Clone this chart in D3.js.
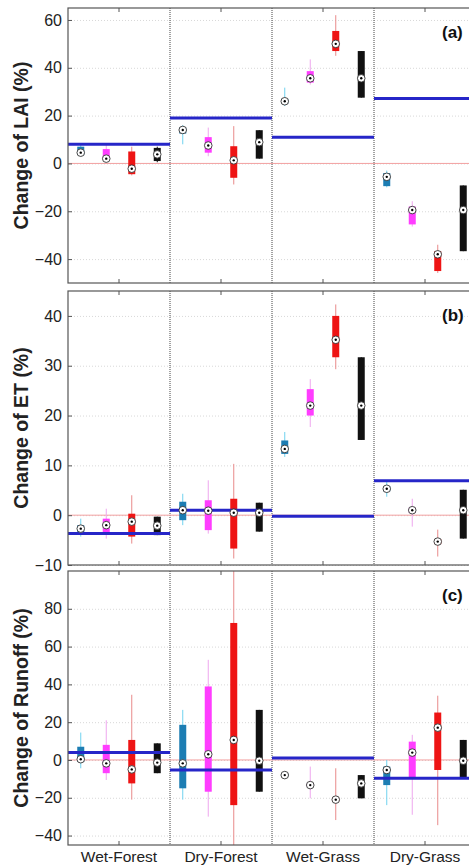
<!DOCTYPE html>
<html>
<head>
<meta charset="utf-8">
<script src="https://cdn.jsdelivr.net/npm/d3@7"></script>
<style>
  body { margin: 0; overflow: hidden; background: #fff; }
  svg { font-family: "Liberation Sans", Arial, sans-serif; }
</style>
</head>
<body>
<svg id="chart" width="490" height="868"></svg>
<script>
const categories = ["Wet-Forest", "Dry-Forest", "Wet-Grass", "Dry-Grass"];
const seriesKeys = ["s1", "s2", "s3", "s4"];

// each box: [whiskerLow, q1, median, q3, whiskerHigh], ordered by category then series
const laiBoxes = [
  [3, 3.5, 4.5, 7, 8], [1, 2, 2, 6, 8], [-5, -4.5, -2.2, 5, 7], [0.5, 1, 3.8, 6.5, 7],
  [8, 12.5, 14, 15, 16], [3, 4.5, 7.5, 11, 15], [-8.8, -6, 1.3, 7.2, 15.6], [2, 2, 8.9, 13.9, 13.9],
  [24, 25, 26, 27, 31.7], [33, 33.8, 35.6, 38.6, 43.5], [45, 47, 50, 55.4, 62], [27.5, 27.5, 35.6, 47, 47],
  [-10, -9.5, -5.6, -4, -3], [-26.4, -25.5, -19.5, -18, -15.8], [-45.8, -45, -38, -36.7, -34], [-36.7, -36.7, -19.5, -9.2, -9.2]
];
const laiMeans = [8, 19, 11, 27.2];
const laiTicks = [-40, -20, 0, 20, 40, 60];

const etBoxes = [
  [-4.3, -3.5, -2.7, -2, -0.7], [-4.7, -3.7, -2, -0.7, 1.3], [-5.7, -4.3, -1.3, 0.3, 4], [-4, -4, -2.1, -0.3, -0.3],
  [-2, -1, 1, 2.7, 4.3], [-3.7, -3, 0.9, 3, 7], [-8.7, -6.7, 0.5, 3.3, 10.3], [-3.3, -3.3, 0.5, 2.5, 2.5],
  [11.7, 12.3, 13.3, 15, 16.7], [17.7, 20, 22, 25.3, 27.3], [29.3, 31.7, 35.2, 40, 42.3], [15.1, 15.1, 22, 31.7, 31.7],
  [3.7, 4.8, 5.3, 5.8, 6.7], [-2.3, 0.5, 1, 1.5, 3.3], [-8.3, -5.8, -5.3, -4.8, -2.9], [-4.7, -4.7, 1, 5.1, 5.1]
];
const etMeans = [-3.7, 1.0, -0.2, 6.9];
const etTicks = [-10, 0, 10, 20, 30, 40];

const runoffBoxes = [
  [-4.4, -1, 0.4, 7, 14.5], [-10.6, -7, -1.8, 8, 21], [-21, -12.4, -5, 10.6, 34.5], [-7, -7, -1.4, 8.8, 8.8],
  [-21, -15, -1.8, 18.6, 26.5], [-30, -16.8, 3, 38.9, 53], [-50, -23.9, 10.6, 72.5, 105], [-16.8, -16.8, -0.4, 26.5, 26.5],
  [-10, -9, -8, -7, -6], [-20.3, -14, -13.3, -12.5, -3.5], [-31.8, -22, -21, -20, -4.4], [-20.3, -20.3, -12.4, -8, -8],
  [-23.9, -13.3, -5.3, -3.5, 0], [-29, -9.7, 3.9, 9.7, 13.3], [-34.5, -5.3, 17.1, 25.1, 34], [-9.7, -9.7, -0.4, 10.6, 10.6]
];
const runoffMeans = [3.9, -5.3, 1, -9.7];
const runoffTicks = [-40, -20, 0, 20, 40, 60, 80];

const boxColors = ["#1c7db3", "#ff3dff", "#ee1414", "#111111"];
const whiskerColors = ["#6fd2ef", "#eea6ee", "#e88a8a", "#111111"];

const panels = [
  { tag: "(a)", title: "Change of LAI (%)", boxes: laiBoxes, means: laiMeans, ticks: laiTicks, domain: [-50, 65], top: 8, bottom: 283 },
  { tag: "(b)", title: "Change of ET (%)", boxes: etBoxes, means: etMeans, ticks: etTicks, domain: [-10, 45], top: 291, bottom: 565 },
  { tag: "(c)", title: "Change of Runoff (%)", boxes: runoffBoxes, means: runoffMeans, ticks: runoffTicks, domain: [-45, 100], top: 571, bottom: 845 }
];

const svg = d3.select("#chart");
const left = 68, right = 476;

const x = d3.scaleBand().domain(categories).range([left, right]);
const xs = d3.scalePoint().domain(seriesKeys).range([0, x.bandwidth()]).padding(0.5);

panels.forEach((p, pi) => {
  const y = d3.scaleLinear().domain(p.domain).range([p.bottom, p.top]);
  const g = svg.append("g");

  g.append("clipPath").attr("id", "clip" + pi)
    .append("rect").attr("x", left).attr("y", p.top).attr("width", right - left).attr("height", p.bottom - p.top);

  // dotted horizontal grid
  g.append("g")
    .attr("transform", `translate(${left},0)`)
    .call(d3.axisLeft(y).tickValues(p.ticks).tickSize(-(right - left)).tickFormat(""))
    .call(s => s.select(".domain").remove())
    .selectAll("line").attr("stroke", "#d8d8d8").attr("stroke-dasharray", "1,2");

  // category dividers
  g.selectAll(".divider")
    .data(categories.slice(1))
    .join("line")
    .attr("x1", d => x(d)).attr("x2", d => x(d))
    .attr("y1", p.top).attr("y2", p.bottom)
    .attr("stroke", "#444").attr("stroke-dasharray", "1,1");

  const plot = g.append("g").attr("clip-path", `url(#clip${pi})`);

  // zero line
  plot.append("line")
    .attr("x1", left).attr("x2", right)
    .attr("y1", y(0)).attr("y2", y(0))
    .attr("stroke", "#f2a0a0").attr("stroke-width", 1);

  const items = p.boxes.map((b, i) => ({
    cat: categories[Math.floor(i / 4)], s: i % 4, lo: b[0], q1: b[1], med: b[2], q3: b[3], hi: b[4]
  }));
  const cx = d => x(d.cat) + xs(seriesKeys[d.s]);

  plot.selectAll(".whisker").data(items).join("line")
    .attr("x1", cx).attr("x2", cx)
    .attr("y1", d => y(d.lo)).attr("y2", d => y(d.hi))
    .attr("stroke", d => whiskerColors[d.s]).attr("stroke-width", 1);

  plot.selectAll(".box").data(items).join("rect")
    .attr("x", d => cx(d) - 3.5)
    .attr("width", 7)
    .attr("y", d => y(d.q3))
    .attr("height", d => Math.max(1, y(d.q1) - y(d.q3)))
    .attr("fill", d => boxColors[d.s]);

  // group mean lines
  plot.selectAll(".mean").data(p.means).join("line")
    .attr("x1", (d, i) => x(categories[i])).attr("x2", (d, i) => x(categories[i]) + x.bandwidth())
    .attr("y1", d => y(d)).attr("y2", d => y(d))
    .attr("stroke", "#2626c8").attr("stroke-width", 3);

  plot.selectAll(".med").data(items).join("circle")
    .attr("cx", cx).attr("cy", d => y(d.med)).attr("r", 3.8)
    .attr("fill", "#fff").attr("stroke", "#333").attr("stroke-width", 0.9);
  plot.selectAll(".meddot").data(items).join("circle")
    .attr("cx", cx).attr("cy", d => y(d.med)).attr("r", 1.2)
    .attr("fill", "#000");

  // y axis
  g.append("g")
    .attr("transform", `translate(${left},0)`)
    .call(d3.axisLeft(y).tickValues(p.ticks).tickSizeInner(-4).tickSizeOuter(0).tickPadding(6))
    .call(s => s.select(".domain").remove())
    .call(s => s.selectAll("line").attr("stroke", "#555"))
    .call(s => s.selectAll("text").attr("font-size", "16px").attr("fill", "#222"));

  // x ticks top and bottom
  g.append("g")
    .attr("transform", `translate(0,${p.top})`)
    .call(d3.axisTop(x).tickSizeInner(-4).tickSizeOuter(0).tickFormat(""))
    .call(s => s.select(".domain").remove())
    .selectAll("line").attr("stroke", "#555");
  g.append("g")
    .attr("transform", `translate(0,${p.bottom})`)
    .call(d3.axisBottom(x).tickSizeInner(-4).tickSizeOuter(0).tickPadding(6)
      .tickFormat(pi === 2 ? null : ""))
    .call(s => s.select(".domain").remove())
    .call(s => s.selectAll("line").attr("stroke", "#555"))
    .call(s => s.selectAll("text").attr("font-size", "15.5px").attr("fill", "#222"));

  // frame
  g.append("rect")
    .attr("x", left).attr("y", p.top)
    .attr("width", right - left).attr("height", p.bottom - p.top)
    .attr("fill", "none").attr("stroke", "#555").attr("stroke-width", 1.2);

  g.append("text")
    .attr("x", 442).attr("y", p.top + 30)
    .attr("font-size", "17px").attr("font-weight", "bold").attr("fill", "#111")
    .text(p.tag);

  g.append("text")
    .attr("transform", `translate(28,${(p.top + p.bottom) / 2}) rotate(-90)`)
    .attr("text-anchor", "middle")
    .attr("font-size", "19.5px").attr("font-weight", "bold").attr("fill", "#222")
    .text(p.title);
});
</script>
</body>
</html>
